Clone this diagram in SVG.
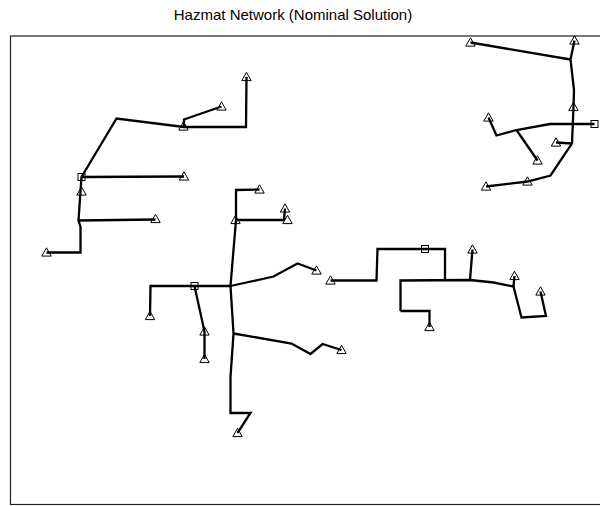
<svg xmlns="http://www.w3.org/2000/svg" xmlns:xlink="http://www.w3.org/1999/xlink" width="600" height="506" viewBox="0 0 600 506">
<style>
.title{font-family:"Liberation Sans",Arial,sans-serif;font-size:15px;fill:#000}
.frame{fill:none;stroke:#222;stroke-width:1.2}
.edge{fill:none;stroke:#000;stroke-width:2.3;stroke-linejoin:miter;stroke-linecap:butt}
.mk{fill:none;stroke:#000;stroke-width:1}
</style>
<defs>
<path id="tri" d="M0,-4.7 L4.7,3.6 L-4.7,3.6 Z"/>
<rect id="sq" x="-3.5" y="-3.5" width="7" height="7"/>
</defs>
<rect width="600" height="506" fill="#fff"/>
<text class="title" x="293" y="20" text-anchor="middle">Hazmat Network (Nominal Solution)</text>
<rect class="frame" x="10.5" y="36" width="600" height="468.5"/>
<g id="connectors">
<polyline class="edge" points="246.5,77 246,127 184,127 116.5,118.5 81.5,177 78.5,220.5 80.5,227 80.5,252.5 46.5,252.5"/>
<polyline class="edge" points="184,127 184,119.5 221.5,106.5"/>
<polyline class="edge" points="81.5,177 184,176.5"/>
<polyline class="edge" points="78.5,220.5 155.5,219.5"/>
<polyline class="edge" points="470.5,42.5 570.5,59.5"/>
<polyline class="edge" points="574.5,40.5 570.5,59.5 574,90 573.5,107 572,143.5 550.5,175.5 527.5,181.5 486,186.5"/>
<polyline class="edge" points="594.5,124 550,124 516.5,130 496.5,135.5 488.5,117.5"/>
<polyline class="edge" points="516.5,130 537.5,160.5"/>
<polyline class="edge" points="556,142.5 572,143.5"/>
<polyline class="edge" points="259.5,189.5 236,190 236,220 230.5,286 233.5,333.5 230.5,377 230.5,413 250.5,413 237.5,433"/>
<polyline class="edge" points="236,220 284,220 285,208.5"/>
<polyline class="edge" points="230.5,286 273.5,276.5 297.5,263.5 316.5,270.5"/>
<polyline class="edge" points="230.5,286 150.5,286 150,316"/>
<polyline class="edge" points="194.5,286 204.5,331.5 204.5,359"/>
<polyline class="edge" points="233.5,333.5 291.5,343.5 310.5,354 322.5,344 341.5,350"/>
<polyline class="edge" points="330.5,280.5 376.5,280.5 377.5,249 445,249 445,280"/>
<polyline class="edge" points="400.5,311 400.5,280.5 470,280 493.5,282.5 513.5,286.5 521.5,317.5 546,316 540.5,291.5"/>
<polyline class="edge" points="470,280 472.5,249.5"/>
<polyline class="edge" points="513.5,286.5 514.5,276"/>
<polyline class="edge" points="400.5,311 429.5,311 429.5,327"/>
</g>
<g id="t1"><use class="mk" href="#tri" x="246.5" y="77"/></g>
<g id="t2"><use class="mk" href="#tri" x="183.5" y="126.5"/></g>
<g id="t3"><use class="mk" href="#tri" x="221.5" y="106.5"/></g>
<g id="t4"><use class="mk" href="#tri" x="81.5" y="191.5"/></g>
<g id="t5"><use class="mk" href="#tri" x="184" y="176.5"/></g>
<g id="t6"><use class="mk" href="#tri" x="155.5" y="219"/></g>
<g id="t7"><use class="mk" href="#tri" x="46.5" y="252.5"/></g>
<g id="t8"><use class="mk" href="#tri" x="470.5" y="42.5"/></g>
<g id="t9"><use class="mk" href="#tri" x="574.5" y="40.5"/></g>
<g id="t10"><use class="mk" href="#tri" x="573.5" y="107"/></g>
<g id="t11"><use class="mk" href="#tri" x="488.5" y="117.5"/></g>
<g id="t12"><use class="mk" href="#tri" x="537.5" y="160.5"/></g>
<g id="t13"><use class="mk" href="#tri" x="556" y="142.5"/></g>
<g id="t14"><use class="mk" href="#tri" x="527.5" y="181.5"/></g>
<g id="t15"><use class="mk" href="#tri" x="486" y="186.5"/></g>
<g id="t16"><use class="mk" href="#tri" x="259.5" y="189.5"/></g>
<g id="t17"><use class="mk" href="#tri" x="235.5" y="220"/></g>
<g id="t18"><use class="mk" href="#tri" x="287.5" y="220"/></g>
<g id="t19"><use class="mk" href="#tri" x="285" y="208.5"/></g>
<g id="t20"><use class="mk" href="#tri" x="316.5" y="270.5"/></g>
<g id="t21"><use class="mk" href="#tri" x="150" y="316"/></g>
<g id="t22"><use class="mk" href="#tri" x="204.5" y="331.5"/></g>
<g id="t23"><use class="mk" href="#tri" x="204.5" y="359"/></g>
<g id="t24"><use class="mk" href="#tri" x="341.5" y="350"/></g>
<g id="t25"><use class="mk" href="#tri" x="237.5" y="433"/></g>
<g id="t26"><use class="mk" href="#tri" x="330.5" y="280.5"/></g>
<g id="t27"><use class="mk" href="#tri" x="429.5" y="327"/></g>
<g id="t28"><use class="mk" href="#tri" x="472.5" y="249.5"/></g>
<g id="t29"><use class="mk" href="#tri" x="514.5" y="276"/></g>
<g id="t30"><use class="mk" href="#tri" x="540.5" y="291.5"/></g>
<g id="s1"><use class="mk" href="#sq" x="81.5" y="177"/></g>
<g id="s2"><use class="mk" href="#sq" x="594.5" y="124"/></g>
<g id="s3"><use class="mk" href="#sq" x="194.5" y="286"/></g>
<g id="s4"><use class="mk" href="#sq" x="425" y="249"/></g>
</svg>
